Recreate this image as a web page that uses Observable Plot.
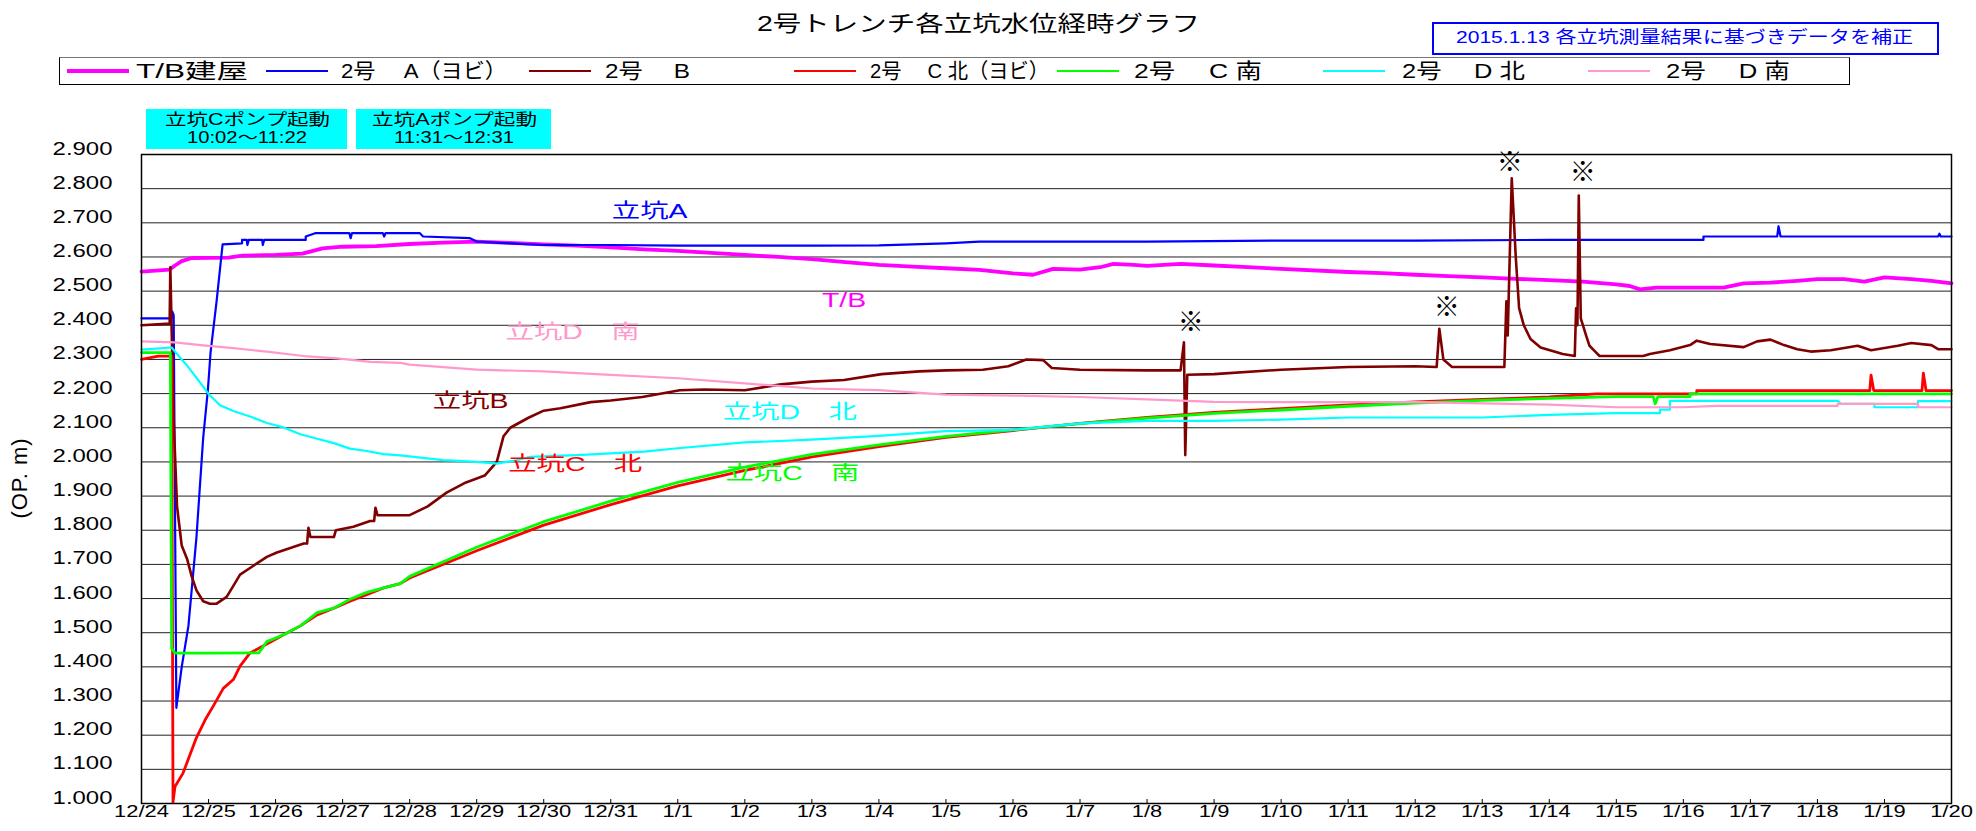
<!DOCTYPE html>
<html><head><meta charset="utf-8">
<script src="https://cdn.jsdelivr.net/npm/d3@7"></script>
<script src="https://cdn.jsdelivr.net/npm/@observablehq/plot@0.6"></script>
<style>
body{margin:0;background:#fff;}
#wrap{position:relative;width:1976px;height:831px;overflow:hidden;background:#fff;font-family:"Liberation Sans","Noto Sans CJK JP",sans-serif;}
#wrap svg{position:absolute;left:0;top:0;}
.abs{position:absolute;white-space:pre;}
.box{position:absolute;box-sizing:border-box;}
</style></head><body>
<div id="wrap"></div>
<script>
// ---------- data ----------
const dayLabels = ["12/24","12/25","12/26","12/27","12/28","12/29","12/30","12/31",
  "1/1","1/2","1/3","1/4","1/5","1/6","1/7","1/8","1/9","1/10","1/11","1/12",
  "1/13","1/14","1/15","1/16","1/17","1/18","1/19","1/20"];
const seriesNames = ["T/B建屋","2号\u3000 A（ヨビ）","2号\u3000 B","2号\u3000 C 北（ヨビ）","2号\u3000 C 南","2号\u3000 D 北","2号\u3000 D 南"];
const seriesColors = ["#ff00ff","#0000ff","#800000","#ff0000","#00ff00","#00ffff","#ff99cc"];

// [day since 12/24 0:00, level O.P. m]
const levelTB = [[0,2.557],[0.42,2.563],[0.5,2.575],[0.6,2.588],[0.75,2.597],[1.3,2.598],[1.5,2.604],[2.0,2.606],[2.4,2.61],[2.7,2.625],[3.0,2.63],[3.5,2.632],[4.0,2.638],[4.5,2.642],[5.0,2.645],[5.5,2.641],[6.0,2.637],[6.5,2.633],[7.0,2.628],[7.5,2.622],[8.0,2.618],[8.5,2.612],[9.0,2.606],[9.5,2.6],[10.0,2.594],[10.5,2.585],[11.0,2.577],[11.5,2.572],[12.0,2.567],[12.5,2.562],[13.0,2.552],[13.3,2.548],[13.6,2.565],[14.0,2.563],[14.3,2.57],[14.5,2.58],[14.8,2.577],[15.0,2.574],[15.5,2.58],[16.0,2.575],[16.5,2.57],[17.0,2.565],[18.0,2.556],[18.5,2.553],[19.0,2.548],[19.5,2.544],[20.0,2.54],[20.5,2.536],[21.0,2.532],[21.5,2.528],[22.0,2.52],[22.2,2.515],[22.35,2.505],[22.6,2.51],[23.0,2.51],[23.6,2.51],[23.9,2.523],[24.3,2.525],[24.7,2.53],[25.0,2.535],[25.4,2.535],[25.7,2.528],[26.0,2.54],[26.4,2.535],[26.7,2.53],[27,2.523]];
const levelA = [[0,2.42],[0.45,2.42],[0.46,2.44],[0.48,2.43],[0.52,1.28],[0.6,1.40],[0.7,1.52],[0.82,1.78],[0.92,2.07],[0.99,2.21],[1.03,2.32],[1.12,2.47],[1.21,2.637],[1.5,2.64],[1.5,2.65],[1.57,2.65],[1.58,2.635],[1.6,2.65],[1.8,2.65],[1.81,2.635],[1.83,2.65],[2.45,2.65],[2.45,2.66],[2.6,2.67],[3.1,2.67],[3.12,2.655],[3.14,2.67],[3.6,2.67],[3.62,2.66],[3.64,2.67],[4.15,2.67],[4.2,2.66],[4.9,2.655],[5.0,2.645],[5.5,2.64],[6.0,2.635],[7.0,2.635],[8.0,2.633],[9.0,2.633],[10.0,2.633],[11.0,2.634],[12.0,2.64],[12.5,2.645],[13.0,2.645],[15.0,2.645],[17.0,2.648],[19.0,2.648],[21.0,2.65],[22.0,2.65],[23.3,2.65],[23.3,2.66],[24.4,2.66],[24.42,2.69],[24.45,2.66],[26.8,2.66],[26.82,2.668],[26.84,2.66],[27,2.66]];
const levelB = [[0,2.40],[0.42,2.405],[0.43,2.57],[0.455,2.34],[0.48,2.12],[0.53,1.87],[0.6,1.755],[0.68,1.716],[0.75,1.664],[0.82,1.624],[0.92,1.592],[1.02,1.585],[1.12,1.585],[1.27,1.605],[1.37,1.637],[1.47,1.67],[1.67,1.696],[1.87,1.722],[2.02,1.735],[2.22,1.748],[2.42,1.761],[2.47,1.761],[2.49,1.807],[2.52,1.78],[2.87,1.78],[2.9,1.80],[3.16,1.81],[3.41,1.827],[3.47,1.827],[3.49,1.866],[3.52,1.844],[4.0,1.844],[4.27,1.87],[4.55,1.91],[4.84,1.94],[5.12,1.96],[5.3,2.00],[5.4,2.075],[5.5,2.10],[5.78,2.13],[6.0,2.15],[6.25,2.157],[6.7,2.175],[7.0,2.18],[7.47,2.19],[8.03,2.21],[8.4,2.212],[9.0,2.21],[9.54,2.227],[10.0,2.235],[10.48,2.24],[11.04,2.257],[11.6,2.265],[12.0,2.268],[12.55,2.27],[12.93,2.28],[13.2,2.30],[13.45,2.298],[13.58,2.275],[14.0,2.27],[15.0,2.268],[15.5,2.268],[15.55,2.35],[15.57,2.02],[15.6,2.255],[16.0,2.257],[17.0,2.27],[18.0,2.278],[19.0,2.28],[19.32,2.278],[19.36,2.39],[19.42,2.3],[19.55,2.278],[20.0,2.278],[20.33,2.278],[20.36,2.47],[20.38,2.37],[20.44,2.83],[20.5,2.6],[20.55,2.45],[20.62,2.40],[20.72,2.36],[20.87,2.335],[21.2,2.316],[21.38,2.31],[21.4,2.45],[21.42,2.40],[21.44,2.78],[21.47,2.42],[21.55,2.37],[21.6,2.34],[21.7,2.32],[21.75,2.31],[22.4,2.31],[22.5,2.316],[22.8,2.327],[23.1,2.342],[23.2,2.355],[23.4,2.345],[23.9,2.336],[24.1,2.353],[24.3,2.358],[24.5,2.342],[24.7,2.33],[24.9,2.323],[25.2,2.327],[25.6,2.34],[25.8,2.327],[26.2,2.34],[26.4,2.348],[26.7,2.342],[26.8,2.33],[27,2.33]];
const levelCN = [[0,2.30],[0.25,2.31],[0.45,2.31],[0.47,1.004],[0.5,1.05],[0.62,1.089],[0.72,1.141],[0.82,1.193],[0.95,1.245],[1.07,1.285],[1.22,1.337],[1.37,1.363],[1.47,1.402],[1.62,1.441],[1.87,1.467],[2.12,1.494],[2.37,1.52],[2.62,1.552],[2.87,1.572],[3.11,1.592],[3.36,1.611],[3.61,1.631],[3.86,1.644],[4.0,1.66],[5.0,1.74],[6.0,1.815],[7.0,1.875],[8.0,1.93],[9.0,1.975],[10.0,2.015],[11.0,2.045],[12.0,2.072],[13.0,2.092],[14.0,2.113],[15.0,2.13],[16.0,2.145],[17.0,2.156],[18.0,2.167],[19.0,2.176],[20.0,2.183],[21.0,2.19],[21.7,2.199],[23.2,2.199],[23.2,2.209],[25.78,2.209],[25.8,2.254],[25.84,2.209],[26.56,2.209],[26.58,2.26],[26.62,2.209],[27,2.209]];
const levelCS = [[0,2.32],[0.43,2.32],[0.45,1.454],[0.5,1.44],[1.0,1.44],[1.75,1.441],[1.87,1.474],[2.12,1.494],[2.37,1.52],[2.62,1.559],[2.87,1.572],[3.11,1.598],[3.36,1.618],[3.61,1.631],[3.86,1.644],[4.0,1.665],[5.0,1.75],[6.0,1.825],[7.0,1.885],[8.0,1.94],[9.0,1.985],[10.0,2.022],[11.0,2.05],[12.0,2.075],[13.0,2.094],[14.0,2.112],[15.0,2.128],[16.0,2.142],[17.0,2.152],[18.0,2.163],[19.0,2.172],[20.0,2.18],[21.0,2.186],[22.0,2.191],[22.55,2.191],[22.58,2.17],[22.62,2.191],[23.1,2.191],[23.1,2.199],[27,2.199]];
const levelDN = [[0,2.329],[0.45,2.335],[0.53,2.316],[0.7,2.277],[0.88,2.231],[1.0,2.199],[1.17,2.166],[1.37,2.149],[1.62,2.133],[1.87,2.114],[2.12,2.101],[2.37,2.081],[2.62,2.068],[2.87,2.055],[3.11,2.039],[3.36,2.032],[3.61,2.023],[3.86,2.019],[4.5,2.005],[5.0,2.0],[5.3,1.995],[5.6,2.005],[5.8,2.015],[6.5,2.02],[7.0,2.025],[7.5,2.03],[8.0,2.04],[9.0,2.057],[10.0,2.065],[11.0,2.076],[12.0,2.09],[13.0,2.094],[14.0,2.113],[15.0,2.12],[16.0,2.12],[17.0,2.124],[18.0,2.13],[20.0,2.13],[21.0,2.138],[22.0,2.143],[22.65,2.143],[22.65,2.153],[22.8,2.153],[22.8,2.179],[25.3,2.179],[25.35,2.17],[25.85,2.17],[25.85,2.16],[26.5,2.16],[26.5,2.178],[27,2.178]];
const levelDS = [[0,2.353],[0.5,2.35],[0.88,2.342],[1.37,2.333],[1.87,2.323],[2.42,2.31],[2.92,2.303],[3.41,2.293],[3.86,2.29],[4.0,2.285],[5.0,2.27],[6.0,2.265],[7.0,2.255],[8.0,2.245],[9.0,2.23],[10.0,2.215],[11.0,2.21],[12.0,2.197],[13.0,2.194],[14.0,2.19],[15.0,2.183],[16.0,2.176],[17.0,2.175],[19.0,2.175],[21.0,2.168],[22.0,2.16],[23.0,2.16],[23.5,2.164],[25.3,2.164],[25.3,2.17],[26.5,2.17],[26.5,2.16],[27,2.16]];

const labelNames  = ["立坑A","T/B","立坑D\u3000南","立坑B","立坑D\u3000北","立坑C\u3000北","立坑C\u3000南"];
const labelDays   = [7.58, 10.48, 6.43, 4.91, 9.67, 6.47, 9.71];
const labelLevels = [2.715, 2.453, 2.36, 2.157, 2.127, 1.972, 1.946];
const labelColors = ["#0000ff","#ff00ff","#ff99cc","#800000","#00ffff","#ff0000","#00ff00"];
const noteDays   = [15.65, 19.47, 20.41, 21.5];
const noteLevels = [2.408, 2.453, 2.876, 2.846];

const titleText = "2号トレンチ各立坑水位経時グラフ";
const noteText = "2015.1.13 各立坑測量結果に基づきデータを補正";
const pumpLines = [["立坑Cポンプ起動","10:02～11:22"],["立坑Aポンプ起動","11:31～12:31"]];
const yTitle = "(OP. m)";

// ---------- chart ----------
const allSeries = [levelTB, levelA, levelB, levelCN, levelCS, levelDN, levelDS];
const lineWidths = [3.8, 2.2, 2.6, 2.8, 2.8, 2.2, 2.2];
const yTicks = d3.range(10, 30).map(v => v / 10);
const xTicks = d3.range(0, 28);
const labels = labelNames.map((t, i) => ({t, x: labelDays[i], y: labelLevels[i], c: labelColors[i]}));
const notes = noteDays.map((x, i) => ({x, y: noteLevels[i]}));

const wrap = document.getElementById("wrap");
const chart = Plot.plot({
  width: 1976, height: 831,
  marginLeft: 141, marginRight: 25, marginTop: 154, marginBottom: 28,
  style: {fontFamily: '"Liberation Sans","Noto Sans CJK JP",sans-serif', fontSize: "18px", color: "#000", background: "#fff"},
  x: {domain: [0, 27]},
  y: {domain: [1.0, 2.9]},
  marks: [
    Plot.gridY(yTicks, {stroke: "#222", strokeOpacity: 1, strokeWidth: 1}),
    Plot.axisY(yTicks, {tickSize: 0, tickPadding: 29, tickFormat: d3.format(".3f"), label: null, fontSize: 19}),
    Plot.axisX(xTicks, {tickSize: 0, tickPadding: 13, tickFormat: i => dayLabels[i], label: null, fontSize: 16}),
    Plot.ruleX(xTicks.slice(1, -1), {stroke: "#000", strokeWidth: 1, insetTop: 645}),
    ...allSeries.map((s, i) => Plot.line(s, {x: d => d[0], y: d => d[1], stroke: seriesColors[i], strokeWidth: lineWidths[i], strokeLinejoin: "round"})),
    Plot.frame({stroke: "#000", strokeWidth: 1.5}),
    Plot.text(labels, {x: "x", y: "y", text: "t", fill: "c", fontSize: 20, fontWeight: d => d.t === "T/B" ? "bold" : "normal", ariaLabel: () => "shaft-label"}),
    Plot.text(notes, {x: "x", y: "y", text: () => "※", fill: "#000", fontSize: 26})
  ]
});
wrap.appendChild(chart);

function stretch(selector, s) {
  chart.querySelectorAll(selector).forEach(t => {
    let tr = t.getAttribute("transform") || "";
    const x = t.getAttribute("x"), y = t.getAttribute("y");
    if (x !== null || y !== null) {
      tr += ` translate(${+x || 0},${+y || 0})`;
      t.removeAttribute("x"); t.removeAttribute("y");
    }
    t.setAttribute("transform", tr + ` scale(${s},1)`);
  });
}
stretch('g[aria-label="y-axis tick label"] text', 1.26);
stretch('g[aria-label="x-axis tick label"] text', 1.37);
stretch('text[aria-label="shaft-label"]', 1.42);

// ---------- html overlays (title, legend, notes) ----------
function box(left, top, w, h, css) {
  const el = document.createElement("div");
  el.className = "box";
  Object.assign(el.style, {left: left + "px", top: top + "px", width: w + "px", height: h + "px"}, css);
  wrap.appendChild(el);
  return el;
}
function place(text, left, cy, size, width, color = "#000") {
  const el = document.createElement("div");
  el.className = "abs";
  el.textContent = text;
  Object.assign(el.style, {left: left + "px", top: (cy - size * 0.6) + "px", fontSize: size + "px",
    lineHeight: (size * 1.2) + "px", color, transformOrigin: "0 50%"});
  wrap.appendChild(el);
  const w = el.getBoundingClientRect().width;
  el.style.transform = `scaleX(${width / w})`;
  return el;
}

place(titleText, 757, 24, 22, 443);

box(1432, 22, 507, 33, {border: "2.5px solid #0000ff", background: "#fff"});
place(noteText, 1456, 38.5, 17, 457, "#0000ff");

box(59, 57, 1791, 28, {border: "1.5px solid #000", borderTopColor: "#777", background: "#fff"});
const swatchX = [67, 266, 529, 794, 1057, 1323, 1588];
const textX = [136, 341, 605, 870, 1134, 1402, 1666];
const textW = [112, 166, 85, 179, 128, 123, 124];
seriesNames.forEach((n, i) => {
  const h = i === 0 ? 4 : 2;
  box(swatchX[i], 71 - h / 2, 62, h, {background: seriesColors[i]});
  place(n, textX[i], 71, 21, textW[i]);
});

const pumpBoxes = [[146, 201], [356, 195]];
pumpBoxes.forEach(([left, w], i) => {
  box(left, 109, w, 40, {background: "#00ffff"});
  const cx = left + w / 2;
  place(pumpLines[i][0], cx - 82, 120, 16, 165);
  place(pumpLines[i][1], cx - 60, 138, 16, 120);
});

const yt = document.createElement("div");
yt.className = "abs";
yt.textContent = yTitle;
Object.assign(yt.style, {left: "20px", top: "478px", fontSize: "22px", letterSpacing: "1px",
  transform: "translate(-50%,-50%) rotate(-90deg)"});
wrap.appendChild(yt);
</script>
</body></html>
